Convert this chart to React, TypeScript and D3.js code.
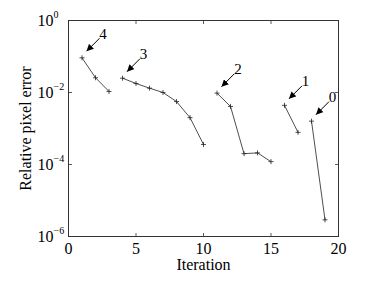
import React from "react";
import * as d3 from "d3";

const series0X = [18, 19];
const series0Y = [0.0016, 2.9e-6];
const series1X = [16, 17];
const series1Y = [0.0044, 7.8e-4];
const series2X = [11, 12, 13, 14, 15];
const series2Y = [0.0096, 0.0041, 2.0e-4, 2.1e-4, 1.2e-4];
const series3X = [4, 5, 6, 7, 8, 9, 10];
const series3Y = [0.025, 0.0178, 0.0132, 0.01, 0.0056, 0.002, 3.6e-4];
const series4X = [1, 2, 3];
const series4Y = [0.092, 0.0257, 0.0107];
const seriesLabels = ["0", "1", "2", "3", "4"];
const xTicks = [0, 5, 10, 15, 20];
const yTickExps = [0, -2, -4, -6];

const W = 374, H = 281;
const L = 68.5, R = 338.5, T = 20.5, B = 236.5;
const FONT = "'Liberation Serif', 'DejaVu Serif', serif";

export default function App() {
  const x = d3.scaleLinear().domain([0, 20]).range([L, R]);
  const y = d3.scaleLog().domain([1e-6, 1]).range([B, T]);
  const all = [
    { xs: series0X, ys: series0Y },
    { xs: series1X, ys: series1Y },
    { xs: series2X, ys: series2Y },
    { xs: series3X, ys: series3Y },
    { xs: series4X, ys: series4Y },
  ];
  const line = d3.line<[number, number]>().x((d) => x(d[0])).y((d) => y(d[1]));
  const stroke = "#222";
  return (
    <svg width={W} height={H} style={{ position: "absolute", left: 0, top: 0, background: "#fff" }}>
      <defs>
        <marker id="ah" viewBox="0 0 10 10" refX="10" refY="5" markerWidth="7" markerHeight="7" orient="auto" markerUnits="userSpaceOnUse">
          <path d="M0,0 L10,5 L0,10 z" fill="#000" />
        </marker>
      </defs>
      <rect x={0} y={0} width={W} height={H} fill="#fff" />
      {all.map((s, i) => {
        const pts: [number, number][] = s.xs.map((v, j) => [v, s.ys[j]]);
        const px = x(s.xs[0]);
        const py = y(s.ys[0]);
        const tipX = px + 4.5, tipY = py - 6.5;
        const tailX = tipX + 13, tailY = tipY - 13;
        return (
          <g key={i}>
            <path d={line(pts) || ""} fill="none" stroke={stroke} strokeWidth={0.8} />
            {pts.map((p, j) => (
              <g key={j} stroke={stroke} strokeWidth={0.8}>
                <line x1={x(p[0]) - 2.5} x2={x(p[0]) + 2.5} y1={y(p[1])} y2={y(p[1])} />
                <line x1={x(p[0])} x2={x(p[0])} y1={y(p[1]) - 2.5} y2={y(p[1]) + 2.5} />
              </g>
            ))}
            <line x1={tailX} y1={tailY} x2={tipX} y2={tipY} stroke="#000" strokeWidth={1} markerEnd="url(#ah)" />
            <text x={tailX + 3.5} y={tailY + 0.5} fontFamily={FONT} fontSize={15} textAnchor="middle" fill="#000">
              {seriesLabels[i]}
            </text>
          </g>
        );
      })}
      <rect x={L} y={T} width={R - L} height={B - T} fill="none" stroke="#333" strokeWidth={1} />
      {xTicks.map((t) => (
        <g key={"x" + t}>
          <line x1={x(t)} x2={x(t)} y1={B} y2={B - 3.5} stroke="#333" strokeWidth={0.8} />
          <line x1={x(t)} x2={x(t)} y1={T} y2={T + 3.5} stroke="#333" strokeWidth={0.8} />
          <text x={x(t)} y={B + 17} fontFamily={FONT} fontSize={16} textAnchor="middle" fill="#000">
            {t}
          </text>
        </g>
      ))}
      {yTickExps.map((e) => {
        const yy = y(Math.pow(10, e));
        return (
          <g key={"y" + e}>
            <line x1={L} x2={L + 3.5} y1={yy} y2={yy} stroke="#333" strokeWidth={0.8} />
            <line x1={R} x2={R - 3.5} y1={yy} y2={yy} stroke="#333" strokeWidth={0.8} />
            <text x={53.5} y={yy + 5.5} fontFamily={FONT} fontSize={16} textAnchor="end" fill="#000">
              10
            </text>
            <text x={53.5} y={yy - 3} fontFamily={FONT} fontSize={10} textAnchor="start" fill="#000">
              {e === 0 ? "0" : "\u2212" + Math.abs(e)}
            </text>
          </g>
        );
      })}
      <text x={(L + R) / 2} y={270} fontFamily={FONT} fontSize={16} textAnchor="middle" fill="#000">
        Iteration
      </text>
      <text
        transform={`translate(30.5, ${(T + B) / 2}) rotate(-90)`}
        fontFamily={FONT}
        fontSize={16}
        textAnchor="middle"
        fill="#000"
      >
        Relative pixel error
      </text>
    </svg>
  );
}
